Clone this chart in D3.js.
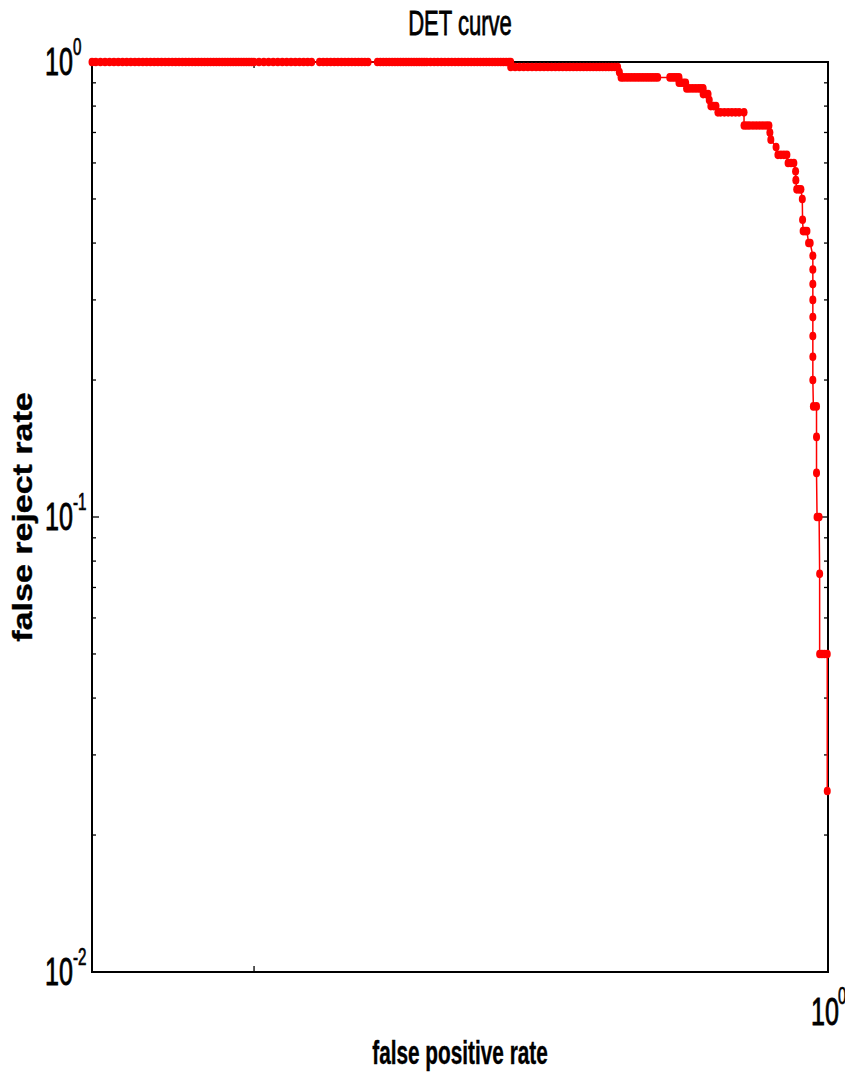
<!DOCTYPE html>
<html><head><meta charset="utf-8">
<script src="https://cdn.jsdelivr.net/npm/d3@7"></script>
<style>body{margin:0;background:#fff}svg{display:block}</style>
</head><body>
<svg id="c" width="845" height="1080"></svg>
<script>
// ---------- data ----------
const titleText = "DET curve";
const xLabelText = "false positive rate";
const yLabelText = "false reject rate";
const xDomain = [0.0522, 1];
const yDomain = [0.01, 1];
const xTickValues = [0.1, 1];
const xTickLabelValues = [1];
const yTickLabelValues = [1, 0.1, 0.01];

// false reject rate levels, in curve order
const frrLevels = [1, 0.975, 0.95, 0.925, 0.9, 0.875, 0.85, 0.825, 0.8, 0.775, 0.725, 0.7, 0.675,
  0.65, 0.625, 0.6, 0.575, 0.55, 0.525, 0.5, 0.45, 0.425, 0.4, 0.375, 0.35, 0.325, 0.3, 0.275,
  0.25, 0.225, 0.2, 0.175, 0.15, 0.125, 0.1, 0.075, 0.05, 0.025];
// false positive rates of the points on each level
const fprAtLevel = [
  [0.0522,0.053,0.054,0.055,0.056,0.057,0.058,0.059,0.060,
   0.061,0.062,0.063,0.064,0.065,0.066,0.067,0.068,0.069,0.070,
   0.071,0.072,0.073,0.074,0.075,0.076,0.077,0.078,0.079,0.080,
   0.081,0.082,0.083,0.084,0.085,0.086,0.087,0.088,0.089,0.090,
   0.091,0.092,0.093,0.094,0.095,0.096,0.097,0.098,0.099,0.100,
   0.102,0.104,0.106,0.108,0.110,0.112,0.114,0.116,0.118,0.120,0.122,0.124,0.126,
   0.130,0.132,0.134,0.136,0.138,0.140,0.142,0.144,0.146,0.148,0.150,0.152,0.154,0.156,0.158,
   0.164,0.166,0.168,0.170,0.172,0.174,0.176,0.178,0.180,0.182,0.184,0.186,0.188,0.190,0.192,0.194,0.196,0.198,0.200,
   0.203,0.206,0.209,0.212,0.215,0.218,0.221,0.224,0.227,0.230,0.233,0.236,0.239,0.242,0.245,0.248,0.251,0.254,0.257,0.260,0.263,0.266,0.269,0.272,0.275,0.278,
   0.280],
  [0.280,0.285,0.290,0.295,0.300,0.305,0.310,0.315,0.320,0.325,0.330,0.335,0.340,0.345,0.350,0.355,
   0.360,0.365,0.370,0.375,0.380,0.385,0.390,0.395,0.400,0.405,0.410,0.415,0.420,0.425,0.430],
  [0.433],
  [0.436,0.440,0.445,0.450,0.455,0.460,0.465,0.470,0.475,0.480,0.485,0.490,0.495,0.500,0.505,
   0.530,0.535,0.540,0.545,0.550],
  [0.550,0.555,0.560,0.565],
  [0.567,0.573,0.580,0.587,0.594,0.600,0.606],
  [0.606,0.613,0.618],
  [0.621],
  [0.625,0.632,0.638],
  [0.643,0.650,0.660,0.670,0.680,0.690,0.700,0.714],
  [0.714,0.722,0.730,0.740,0.750,0.760,0.770,0.780,0.789],
  [0.792],
  [0.795],
  [0.812],
  [0.818,0.828,0.838,0.848],
  [0.852,0.862,0.872],
  [0.878],
  [0.879],
  [0.882,0.890,0.897],
  [0.902],
  [0.903],
  [0.905,0.912,0.919],
  [0.925,0.931],
  [0.941],[0.941],[0.941],[0.941],[0.941],[0.941],[0.941],[0.941],
  [0.943,0.955],
  [0.955],
  [0.955],
  [0.957,0.965],
  [0.967],
  [0.967,0.976,0.986,0.997],
  [0.997]
];

// ---------- layout ----------
const W = 845, H = 1080;
const m = {left: 92, right: 17, top: 62, bottom: 108};
const FONT = "'Liberation Sans', Arial, Helvetica, sans-serif";
const RED = "#ff0000";

const svg = d3.select("#c");
const x = d3.scaleLog().domain(xDomain).range([m.left, W - m.right]);
const y = d3.scaleLog().domain(yDomain).range([H - m.bottom, m.top]);

const points = frrLevels.flatMap((lv, i) => fprAtLevel[i].map(f => ({fpr: f, frr: lv})));

// frame
const x0 = x.range()[0], x1 = x.range()[1], y0 = y.range()[0], y1 = y.range()[1];
svg.append("rect").attr("x", x0).attr("y", y1).attr("width", x1 - x0).attr("height", y0 - y1)
  .attr("fill", "none").attr("stroke", "#000").attr("stroke-width", 2);

// y ticks (left and right, inward)
const yt = y.ticks();
const isMajor = v => Math.abs(Math.log10(v) - Math.round(Math.log10(v))) < 1e-9;
const tg = svg.append("g").attr("stroke", "#000").attr("stroke-width", 1.3);
yt.forEach(v => {
  const len = isMajor(v) ? 7 : 4;
  tg.append("line").attr("x1", x0).attr("x2", x0 + len).attr("y1", y(v)).attr("y2", y(v));
  tg.append("line").attr("x1", x1).attr("x2", x1 - len).attr("y1", y(v)).attr("y2", y(v));
});
xTickValues.forEach(v => {
  tg.append("line").attr("x1", x(v)).attr("x2", x(v)).attr("y1", y0).attr("y2", y0 - 6);
  tg.append("line").attr("x1", x(v)).attr("x2", x(v)).attr("y1", y1).attr("y2", y1 + 6);
});

// curve
const line = d3.line().x(d => x(d.fpr)).y(d => y(d.frr));
svg.append("path").datum(points).attr("d", line)
  .attr("fill", "none").attr("stroke", RED).attr("stroke-width", 1.5);
svg.append("g").selectAll("ellipse").data(points).join("ellipse")
  .attr("cx", d => x(d.fpr)).attr("cy", d => y(d.frr)).attr("rx", 3.5).attr("ry", 4.3)
  .attr("fill", RED);

// text helper
function txt(px, py, s, size, anchor, weight, sq, rot, sw) {
  return svg.append("text")
    .attr("transform", `translate(${px},${py}) scale(${sq},1)` + (rot ? ` rotate(${rot})` : ""))
    .attr("text-anchor", anchor).attr("font-family", FONT)
    .attr("font-size", size).attr("font-weight", weight).attr("fill", "#000")
    .attr("stroke", "#000").attr("stroke-width", sw)
    .text(s);
}

// y tick labels
yTickLabelValues.forEach(v => {
  const e = Math.round(Math.log10(v));
  txt(x0 - 19, y(v) + 13, "10", 38, "end", "normal", 0.66, 0, 0.9);
  txt(x0 - 19, y(v) - 7, e === 0 ? "0" : "-" + Math.abs(e), 23, "start", "normal", 0.66, 0, 0.7);
});
// x tick labels
xTickLabelValues.forEach(v => {
  const e = Math.round(Math.log10(v));
  txt(x(v) - 17, 1025, "10", 38, "start", "normal", 0.66, 0, 0.9);
  txt(x(v) + 10, 1004, e === 0 ? "0" : "-" + Math.abs(e), 23, "start", "normal", 0.66, 0, 0.7);
});

// title and axis labels
txt((x0 + x1) / 2, 35, titleText, 35, "middle", "normal", 0.63, 0, 0.8);
txt((x0 + x1) / 2, 1064, xLabelText, 33, "middle", "bold", 0.63, 0, 0.4);
txt(32, (y0 + y1) / 2, yLabelText, 34, "middle", "bold", 0.84, -90, 0.4);
</script>
</body></html>
